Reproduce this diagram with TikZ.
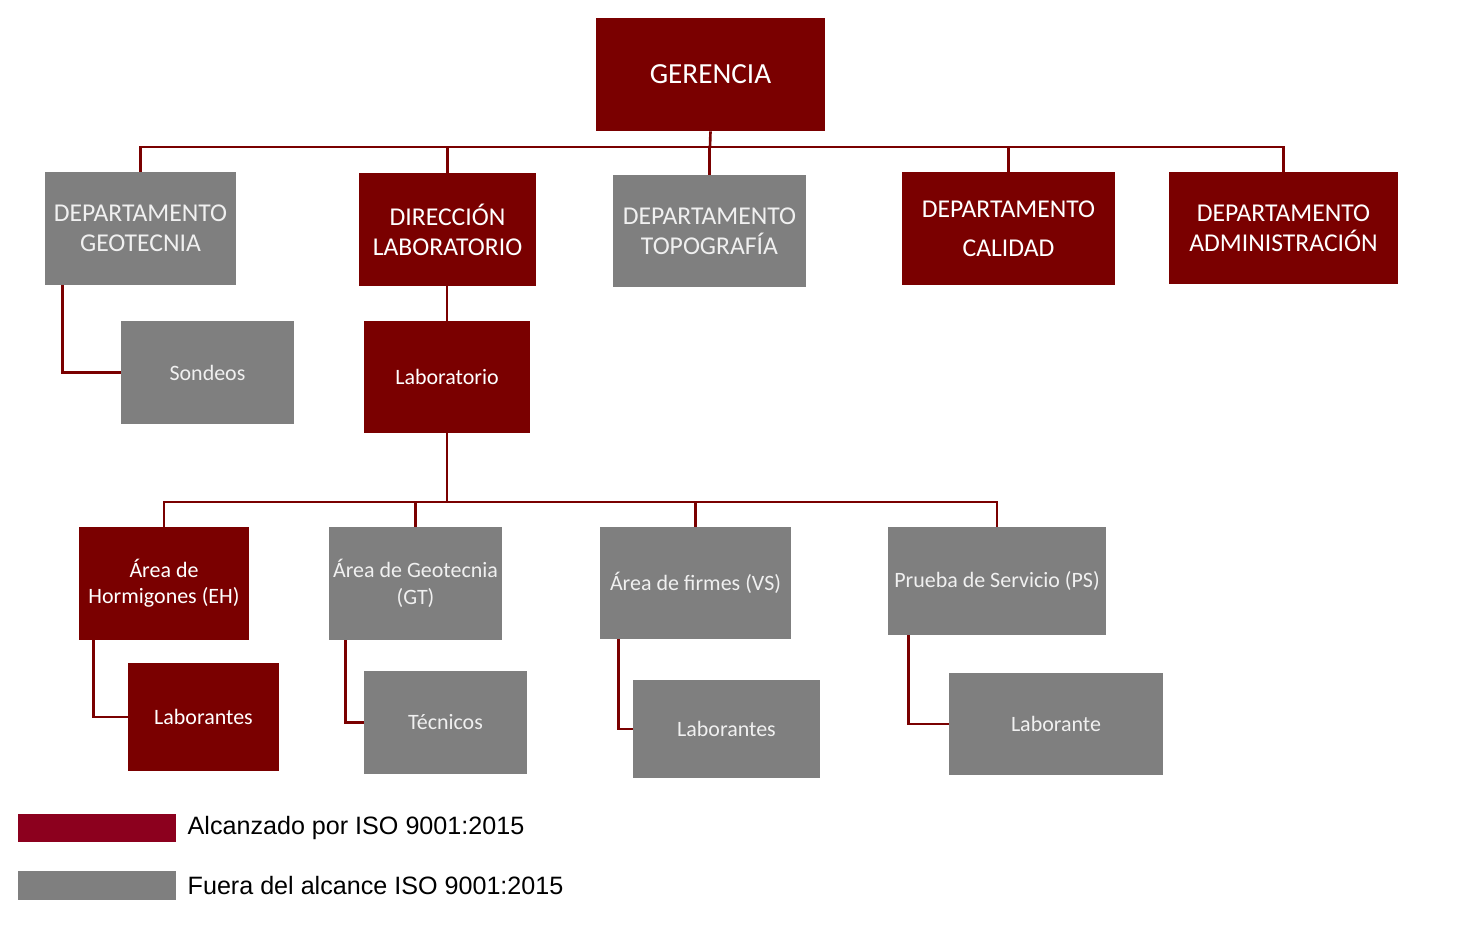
\documentclass[tikz,border=0pt]{standalone}
\usepackage{fontspec}
\setmainfont{Carlito}
\newfontfamily\legendfont{Liberation Sans}
\usepackage{xcolor}
\definecolor{scope}{RGB}{122,0,0}
\definecolor{keyred}{RGB}{140,0,30}
\definecolor{outside}{RGB}{127,127,127}
\usetikzlibrary{positioning, calc}
\tikzstyle{Link} = [line width=1.5pt, color=scope]
\tikzstyle{RedBox} = [fill=scope, text=white, align=center, inner sep=0pt]
\tikzstyle{GreyBox} = [fill=outside, text=white!94!black, align=center, inner sep=0pt]
\tikzstyle{Dept} = [font=\fontsize{14.6}{17}\selectfont]
\tikzstyle{Unit} = [font=\fontsize{12.5}{15}\selectfont]

\begin{document}
\begin{tikzpicture}[x=0.02cm, y=-0.02cm]
    \useasboundingbox (0,0) rectangle (1472,934);
    \node [RedBox, minimum width=4.58cm, minimum height=2.26cm,
           font=\fontsize{16.6}{19}\selectfont] (1) at (710.5,74.5) {GERENCIA};
    \node [GreyBox, Dept, minimum width=3.82cm, minimum height=2.26cm] (2) at (140.5,228.5) {DEPARTAMENTO\\GEOTECNIA};
    \node [RedBox, Dept, minimum width=3.54cm, minimum height=2.26cm] (3) at (447.5,229.5) {DIRECCIÓN\\LABORATORIO};
    \node [GreyBox, Dept, minimum width=3.86cm, minimum height=2.24cm] (4) at (709.5,231) {DEPARTAMENTO\\TOPOGRAFÍA};
    \node [RedBox, Dept, minimum width=4.26cm, minimum height=2.26cm] (5) at (1008.5,228.5) {DEPARTAMENTO\\[5pt]CALIDAD};
    \node [RedBox, Dept, minimum width=4.58cm, minimum height=2.24cm] (6) at (1283.5,228) {DEPARTAMENTO\\ADMINISTRACIÓN};

    \node [GreyBox, Unit, minimum width=3.46cm, minimum height=2.06cm] (7) at (207.5,372.5) {Sondeos};
    \node [RedBox, Unit, minimum width=3.32cm, minimum height=2.24cm] (8) at (447,377) {Laboratorio};

    \node [RedBox, Unit, minimum width=3.40cm, minimum height=2.26cm] (9) at (164,583.5) {Área de\\Hormigones (EH)};
    \node [GreyBox, Unit, minimum width=3.46cm, minimum height=2.26cm] (10) at (415.5,583.5) {Área de Geotecnia\\(GT)};
    \node [GreyBox, Unit, minimum width=3.82cm, minimum height=2.24cm] (11) at (695.5,583) {Área de firmes (VS)};
    \node [GreyBox, Unit, minimum width=4.36cm, minimum height=2.16cm] (12) at (997,581) {Prueba de Servicio (PS)};

    \node [RedBox, Unit, minimum width=3.02cm, minimum height=2.16cm] (13) at (203.5,717) {Laborantes};
    \node [GreyBox, Unit, minimum width=3.26cm, minimum height=2.06cm] (14) at (445.5,722.5) {Técnicos};
    \node [GreyBox, Unit, minimum width=3.74cm, minimum height=1.96cm] (15) at (726.5,729) {Laborantes};
    \node [GreyBox, Unit, minimum width=4.28cm, minimum height=2.04cm] (16) at (1056,724) {Laborante};

    \coordinate (top) at (710,147);
    \coordinate (mid) at (447,502);

    \draw[Link] (1.south)--(top);
    \draw[Link] (2.north) |- (top);
    \draw[Link] (3.north) |- (top);
    \draw[Link] (4.north) |- (top);
    \draw[Link] (5.north) |- (top);
    \draw[Link] (6.north) |- (top);
    \draw[Link] ($(2.south west)+(18,0)$) |- (7.west);
    \draw[Link] (8.north)--(8.north |- 3.south);
    \draw[Link] (8.south)--(mid);
    \draw[Link] (9.north) |- (mid);
    \draw[Link] (10.north) |- (mid);
    \draw[Link] (11.north) |- (mid);
    \draw[Link] (12.north) |- (mid);
    \draw[Link] ($(9.south west)+(15,0)$) |- (13.west);
    \draw[Link] ($(10.south west)+(17,0)$) |- (14.west);
    \draw[Link] ($(11.south west)+(19,0)$) |- (15.west);
    \draw[Link] ($(12.south west)+(21,0)$) |- (16.west);

    % legend
    \node [fill=keyred, minimum width=3.16cm, minimum height=0.56cm, inner sep=0pt] (17) at (97,828) {};
    \node [fill=outside, minimum width=3.16cm, minimum height=0.58cm, inner sep=0pt] (18) at (97,885.5) {};
    \node [right=0.22cm of 17, inner sep=0pt, font=\legendfont\fontsize{14.3}{16}\selectfont] (19) {Alcanzado por ISO 9001:2015};
    \node [right=0.22cm of 18, inner sep=0pt, font=\legendfont\fontsize{14.3}{16}\selectfont] (20) {Fuera del alcance ISO 9001:2015};
\end{tikzpicture}
\end{document}
